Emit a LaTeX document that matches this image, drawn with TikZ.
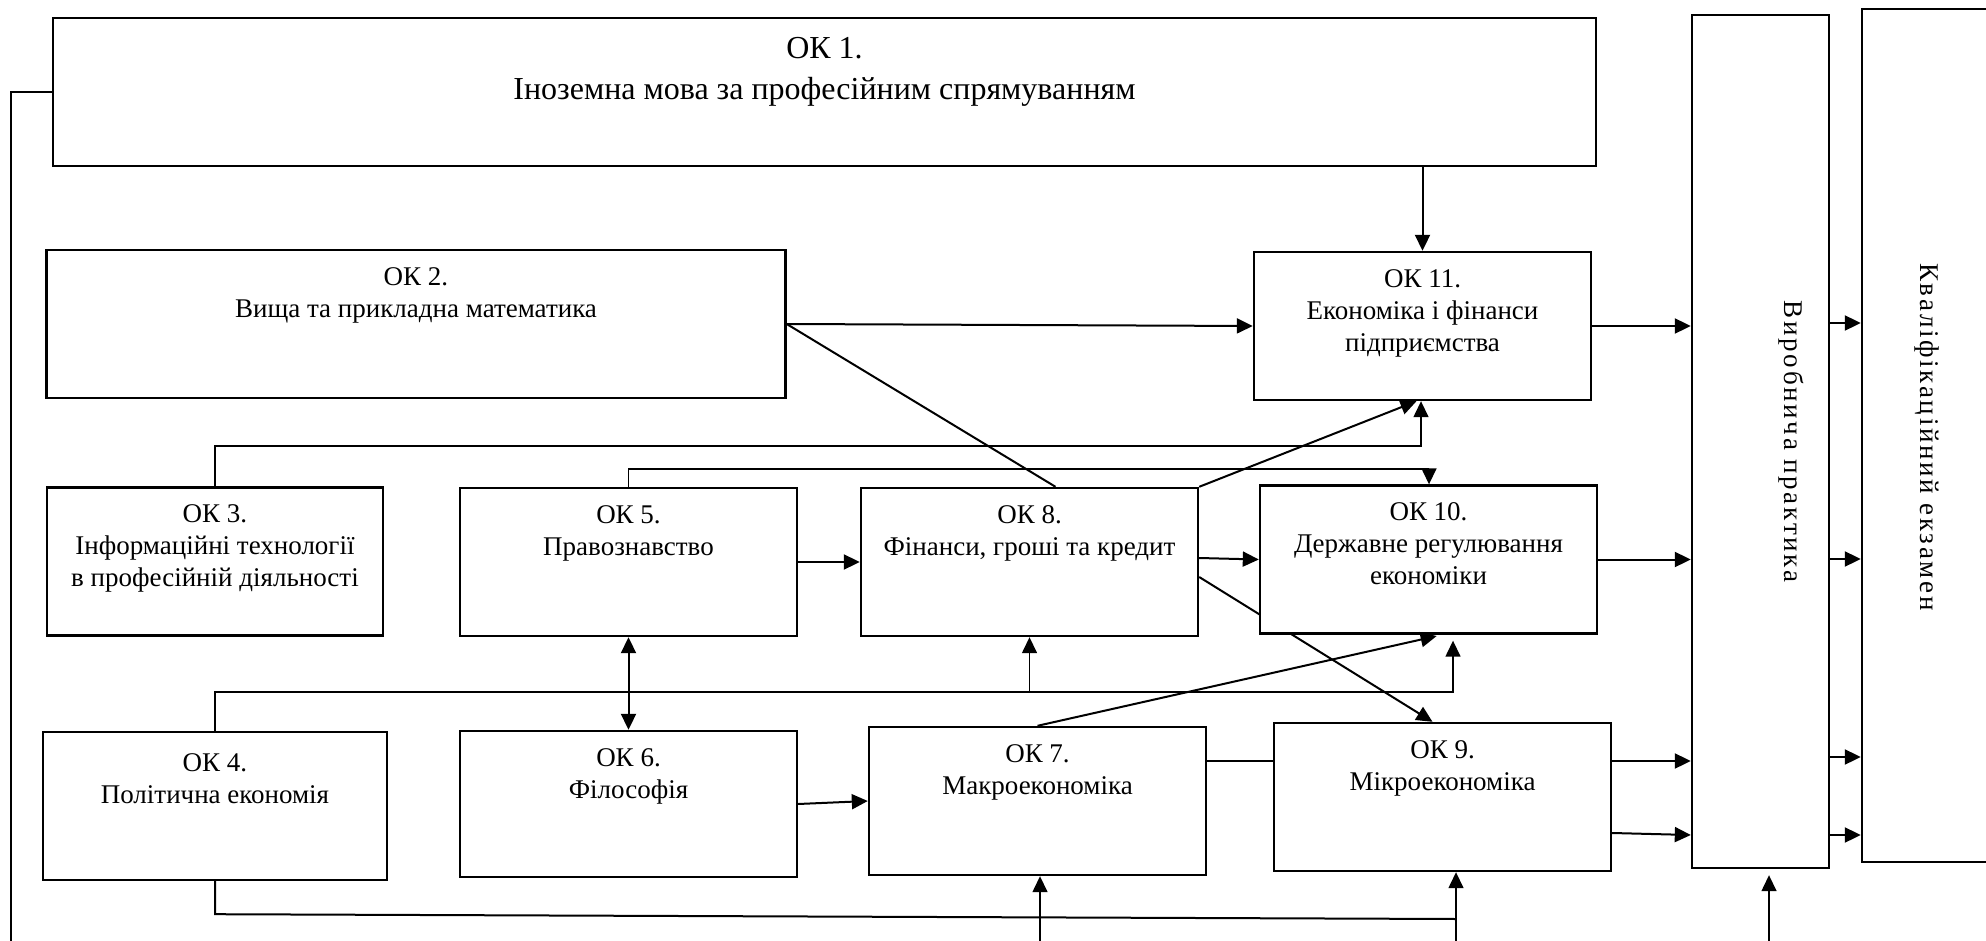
\documentclass[tikz,border=0pt]{standalone}
\usepackage{fontspec}
\setmainfont{Liberation Serif}
\usepackage{tikz}
\usetikzlibrary{positioning,arrows.meta,backgrounds}

\newcommand{\oksize}{\fontsize{13.5}{16}\selectfont}
\newcommand{\okbig}{\fontsize{16}{20.5}\selectfont}

\tikzset{
  okbox/.style={draw, line width=1.2pt, fill=white, minimum width=168.5pt, minimum height=74pt, inner sep=0pt},
  oktext/.style={anchor=north, align=center, inner sep=0pt, yshift=-9pt, font=\oksize},
  tallbox/.style={draw, line width=1.2pt, fill=white, minimum width=68.5pt, minimum height=426.5pt, inner sep=0pt},
  sidetext/.style={rotate=-90, inner sep=0pt, font={\oksize\addfontfeature{LetterSpace=10}}},
  arr/.style={-{Triangle[length=8pt,width=7.5pt]}, line width=1pt},
  thinarr/.style={-{Triangle[length=8pt,width=7.5pt]}, line width=0.75pt},
  dblarr/.style={{Triangle[length=8pt,width=7.5pt]}-{Triangle[length=8pt,width=7.5pt]}, line width=1pt},
  joint/.style={line width=1pt},
  link/.style={line width=0.7pt},
}

\begin{document}
\begin{tikzpicture}[x=0.5pt, y=-0.5pt]
\useasboundingbox (0,0) rectangle (1986,941);
\clip (0,0) rectangle (1986,941);

% дисципліни
\node[okbox, minimum width=771.5pt, label={[oktext, font=\okbig, yshift=-1pt]north:{ОК 1.\\Іноземна мова за професійним спрямуванням}}] (ok1) at (824.5,92) {};
\node[okbox, minimum width=369.5pt, label={[oktext]north:{ОК 2.\\Вища та прикладна математика}}] (ok2) at (416,324) {};
\node[okbox, label={[oktext]north:{ОК 11.\\Економіка і фінанси\\підприємства}}] (ok11) at (1422.5,326) {};
\node[okbox, minimum width=168pt, label={[oktext]north:{ОК 3.\\Інформаційні технології\\в професійній діяльності}}] (ok3) at (215,561.5) {};
\node[okbox, label={[oktext]north:{ОК 5.\\Правознавство}}] (ok5) at (628.5,562) {};
\node[okbox, label={[oktext]north:{ОК 8.\\Фінанси, гроші та кредит}}] (ok8) at (1029.5,562) {};
\node[okbox, label={[oktext]north:{ОК 10.\\Державне регулювання\\економіки}}] (ok10) at (1428.5,559.5) {};
\node[okbox, minimum width=172pt, label={[oktext, yshift=-2pt]north:{ОК 4.\\Політична економія}}] (ok4) at (215,806) {};
\node[okbox, minimum height=73pt, label={[oktext]north:{ОК 6.\\Філософія}}] (ok6) at (628.5,804) {};
\node[okbox, label={[oktext]north:{ОК 7.\\Макроекономіка}}] (ok7) at (1037.5,801) {};
\node[okbox, label={[oktext]north:{ОК 9.\\Мікроекономіка}}] (ok9) at (1442.5,797) {};

% практика та екзамен
\node[tallbox] (vp) at (1760.5,441.5) {};
\node[sidetext] (vptext) at (1791,441.5) {Виробнича практика};
\node[tallbox, minimum width=83pt] (ke) at (1945,435.5) {};
\node[sidetext] (ketext) at (1927,437) {Кваліфікаційний екзамен};

% зв'язки
\coordinate (lft) at (11,941);
\draw[link] (ok1.west) -| (lft);
\draw[arr] (ok11.north |- ok1.south) -- (ok11.north);
\draw[arr] (ok2.east) -- (ok11.west);
\draw[joint] (ok2.east) -- ([xshift=13pt]ok8.north);

\coordinate (j3) at (1421,446);
\draw[thinarr] (ok3.north) |- (j3) -- (j3 |- ok11.south);
\coordinate (j5) at (1429,469);
\draw[thinarr] (ok5.north) |- (j5) -- (j5 |- ok10.north);
\draw[arr] (ok8.north east) -- ([xshift=-3pt]ok11.south);

\draw[arr] (ok5.east) -- (ok8.west);
\draw[arr] ([yshift=2pt]ok8.east) -- (ok10.west);
\begin{scope}[on background layer]
\draw[arr] ([yshift=-7.5pt]ok8.east) -- ([xshift=-5pt]ok9.north);
\end{scope}

\coordinate (j4) at (1453,692);
\draw[thinarr, shorten >=3pt] (ok4.north) |- (j4) -- (j4 |- ok10.south);
\draw[thinarr] (ok8.south |- j4) -- (ok8.south);
\draw[dblarr] (ok5.south) -- (ok6.north);
\draw[arr] (ok6.east) -- (ok7.west);
\draw[arr, shorten >=3pt] (ok7.north) -- ([xshift=7pt]ok10.south);

\coordinate (o9a) at ([yshift=18pt]ok9.east);
\coordinate (o9b) at ([yshift=-18pt]ok9.east);
\draw[joint] (ok7.east |- o9a) -- (ok9.west |- o9a);
\draw[arr] (o9a) -- (vp.west |- o9a);
\draw[arr] (o9b) -- ([yshift=-1pt]vp.west |- o9b);
\draw[arr] (ok11.east) -- (vp.west |- ok11.east);
\draw[arr] (ok10.east) -- (vp.west |- ok10.east);

\foreach \yy in {323,559,757,835} {
  \coordinate (k) at (0,\yy);
  \draw[arr] (vp.east |- k) -- (ke.west |- k);
}

% нижня лінія
\coordinate (jb) at (1456,919);
\draw[joint] (ok4.south) -- ++(0,33) -- (jb);
\coordinate (b9) at (1456,941);
\draw[thinarr] (b9) -- (b9 |- ok9.south);
\coordinate (b7) at (1040,941);
\draw[thinarr] (b7) -- (b7 |- ok7.south);
\coordinate (bvp) at (1769,941);
\draw[thinarr, shorten >=3pt] (bvp) -- (bvp |- vp.south);
\end{tikzpicture}
\end{document}
